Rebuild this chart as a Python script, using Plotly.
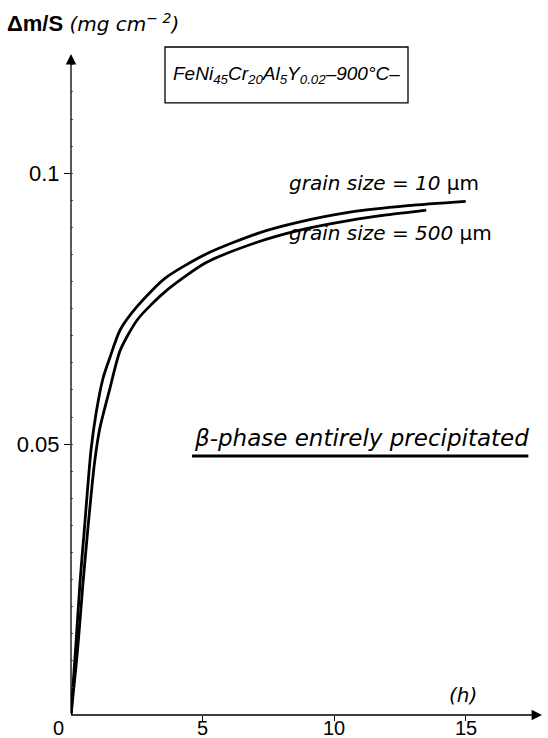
import plotly.graph_objects as go

# Data
t_10 = [0, 0.2, 0.35, 0.5, 0.76, 0.96, 1.22, 1.48, 1.87, 2.53, 3.57, 5.14, 7.10, 8.7, 10.6, 12.8, 15.0]
m_10 = [0, 0.014, 0.025, 0.0338, 0.0489, 0.0559, 0.0622, 0.0660, 0.0711, 0.0755, 0.0806, 0.0851, 0.0889, 0.0910, 0.0928, 0.0940, 0.0948]

t_500 = [0, 0.25, 0.45, 0.63, 0.89, 1.09, 1.48, 1.87, 2.53, 3.57, 5.14, 7.10, 8.7, 10.6, 12.0, 13.5]
m_500 = [0, 0.012, 0.024, 0.0338, 0.0464, 0.0528, 0.0603, 0.0673, 0.0730, 0.0781, 0.0835, 0.0873, 0.0895, 0.0913, 0.0923, 0.0932]

x_ticks = [5, 10, 15]
x_ticklabels = ["5", "10", "15"]
y_ticks = [0.05, 0.1]
y_ticklabels = ["0.05", "0.1"]

X_MAX = 17.9
Y_MAX = 0.122

FONT = "Liberation Sans"
FONT2 = "DejaVu Sans"

fig = go.Figure()
for t, m in [(t_10, m_10), (t_500, m_500)]:
    fig.add_trace(go.Scatter(x=t, y=m, mode="lines",
                             line=dict(color="black", width=2.8, shape="spline", smoothing=0.7),
                             showlegend=False, hoverinfo="skip"))

fig.update_layout(
    width=548, height=738,
    margin=dict(l=71, r=6, t=54, b=23),
    paper_bgcolor="white", plot_bgcolor="white",
    font=dict(family=FONT, color="black"),
    xaxis=dict(range=[0, X_MAX], showgrid=False, zeroline=False, showline=False, automargin=False,
               tickvals=x_ticks, ticks="outside", ticklen=5, showticklabels=False,
               tickwidth=1, tickcolor="black"),
    yaxis=dict(range=[0, Y_MAX], showgrid=False, zeroline=False, showline=False, automargin=False,
               tickvals=y_ticks, ticktext=y_ticklabels, ticks="outside", ticklen=6,
               tickwidth=1, tickcolor="black", tickfont=dict(size=22, family=FONT),
               minor=dict(dtick=0.005, ticks="inside", ticklen=2, tickcolor="#555", tickwidth=1)),
)

# x tick labels
for xv, lab in zip(x_ticks, x_ticklabels):
    fig.add_annotation(x=xv, y=0, xref="x", yref="y", text=lab, showarrow=False,
                       xanchor="center", yanchor="top", yshift=0, font=dict(size=20))

# Axis arrows
fig.add_annotation(x=X_MAX, y=0, ax=0, ay=0, xref="x", yref="y", axref="x", ayref="y",
                   showarrow=True, arrowhead=2, arrowsize=1.6, arrowwidth=1.3, arrowcolor="black", text="")
fig.add_annotation(x=0, y=Y_MAX, ax=0, ay=0, xref="x", yref="y", axref="x", ayref="y",
                   showarrow=True, arrowhead=2, arrowsize=1.6, arrowwidth=1.3, arrowcolor="black", text="")

# origin label
fig.add_annotation(x=-0.0276, y=0, xref="paper", yref="paper", text="0", showarrow=False,
                   xanchor="center", yanchor="top", yshift=0, font=dict(size=20))
# axis unit labels
fig.add_annotation(x=14.9, y=0.0037, xref="x", yref="y", text="<i>(h)</i>", showarrow=False,
                   xanchor="center", yanchor="middle", font=dict(size=20, family=FONT2))
fig.add_annotation(x=-0.14, y=1.047, xref="paper", yref="paper",
                   text="<b>Δm/S</b><span style='font-size:20px;font-family:DejaVu Sans'><i> (mg cm<sup>− 2</sup>)</i></span>",
                   showarrow=False, xanchor="left", yanchor="middle", font=dict(size=22))

# Title box
fig.add_shape(type="rect", xref="paper", yref="paper", x0=0.1996, x1=0.7155, y0=0.926, y1=1.0106,
              line=dict(color="black", width=1.3), fillcolor="white")
fig.add_annotation(x=0.458, y=0.968, xref="paper", yref="paper", showarrow=False,
                   text="<i>FeNi<sub>45</sub>Cr<sub>20</sub>Al<sub>5</sub>Y<sub>0.02</sub>–900°C–</i>",
                   xanchor="center", yanchor="middle", font=dict(size=19))

# Curve labels
fig.add_annotation(x=8.2, y=0.0982, xref="x", yref="y", showarrow=False, xanchor="left",
                   text="<i>grain size = 10</i> μm", font=dict(size=20, family=FONT2))
fig.add_annotation(x=8.2, y=0.0889, xref="x", yref="y", showarrow=False, xanchor="left",
                   text="<i>grain size = 500</i> μm", font=dict(size=20, family=FONT2))

# beta phase note
fig.add_annotation(x=4.6, y=0.0511, xref="x", yref="y", showarrow=False, xanchor="left",
                   text="<i>β-phase entirely precipitated</i>", font=dict(size=23, family=FONT2))
fig.add_shape(type="line", xref="x", yref="y", x0=4.6, x1=17.38, y0=0.0478, y1=0.0478,
              line=dict(color="black", width=2.8))

fig.write_html("out.html")
